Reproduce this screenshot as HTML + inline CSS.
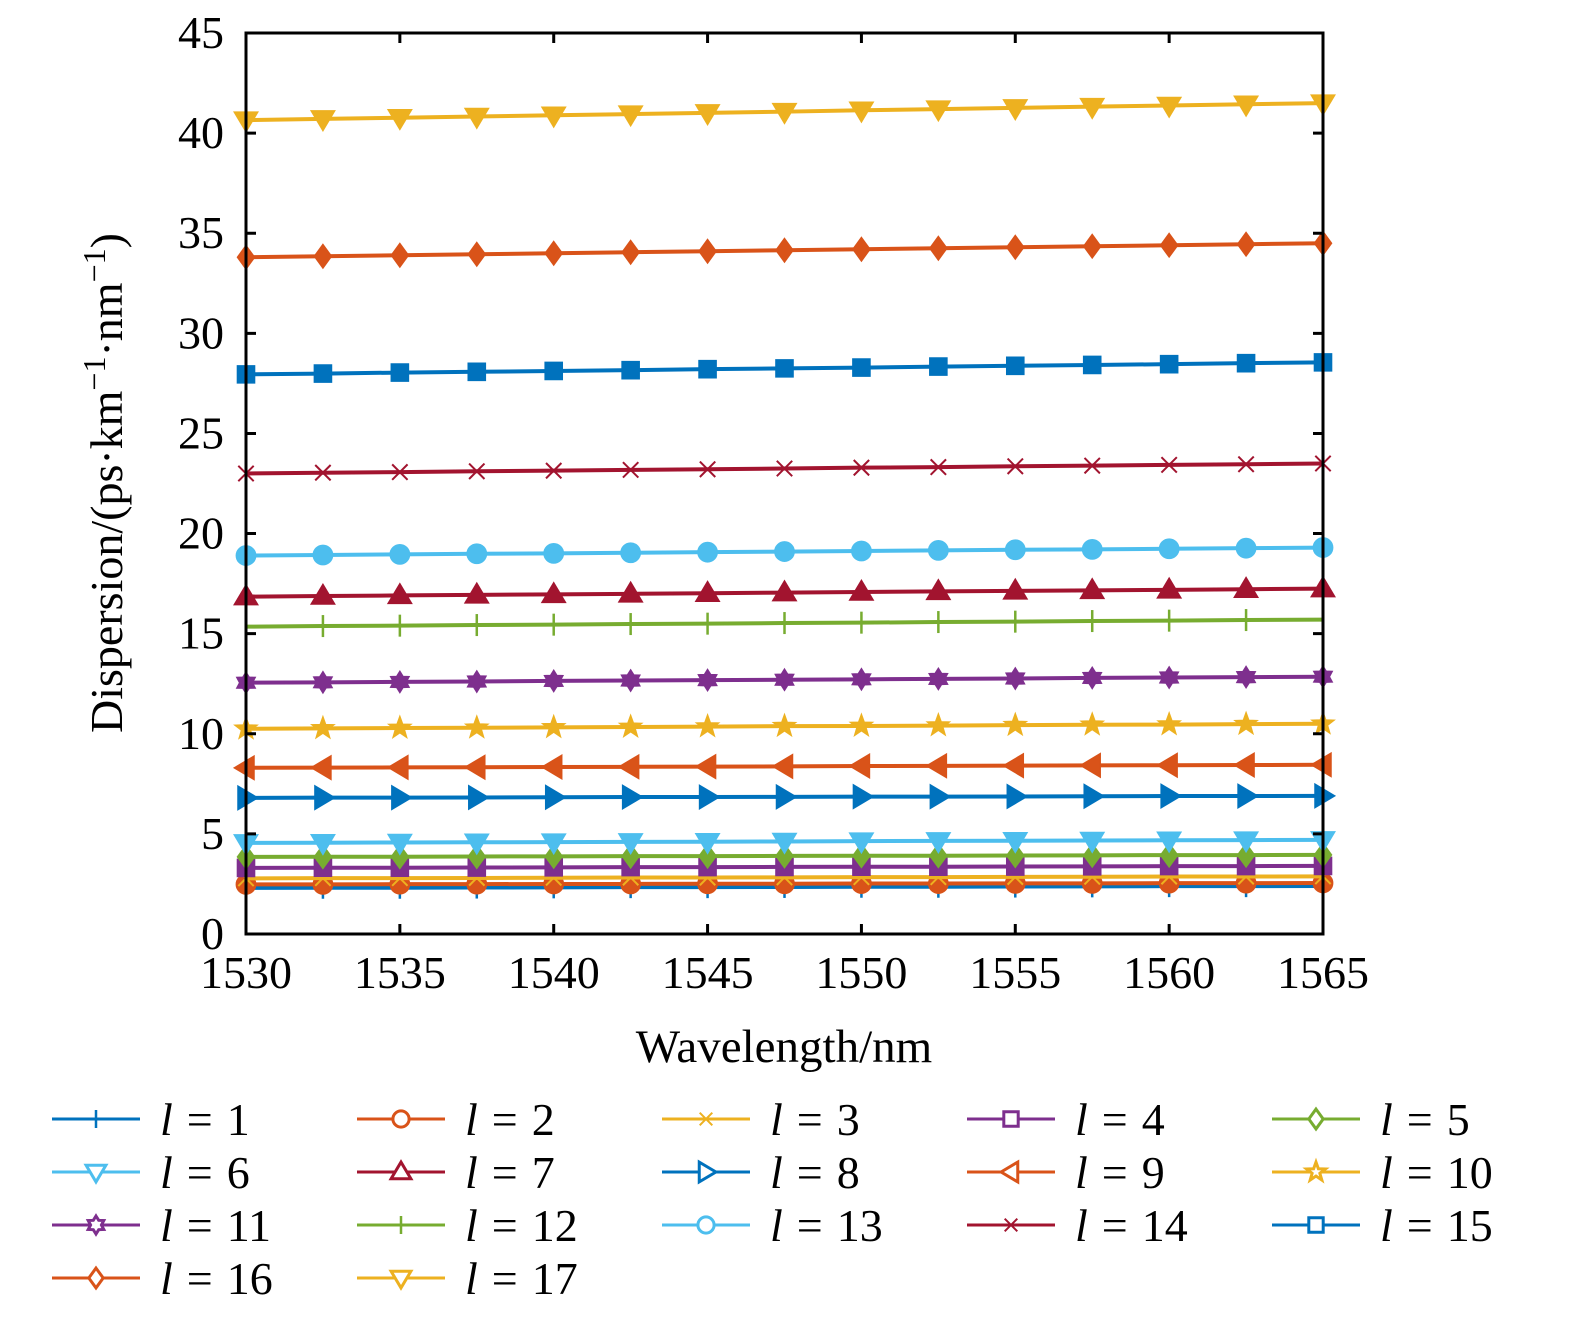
<!DOCTYPE html>
<html><head><meta charset="utf-8">
<style>
html,body{margin:0;padding:0;background:#fff;overflow:hidden;width:1575px;height:1319px;}
svg{display:block;}
svg text{font-family:"Liberation Serif",serif;fill:#000;}
</style></head>
<body>
<svg id="chart" width="1575" height="1319" viewBox="0 0 1575 1319" xmlns="http://www.w3.org/2000/svg">
<g id="plot"></g>
<g id="axes"></g>
<text x="784" y="1062" font-size="47" text-anchor="middle">Wavelength/nm</text>
<text transform="translate(122,483) rotate(-90)" font-size="46" text-anchor="middle">Dispersion/(ps·km<tspan dy="-17" font-size="32">−1</tspan><tspan dy="17">·nm</tspan><tspan dy="-17" font-size="32">−1</tspan><tspan dy="17">)</tspan></text>
<g id="legend"></g>
</svg>
<script>
const wavelengths=[1530,1532.5,1535,1537.5,1540,1542.5,1545,1547.5,1550,1552.5,1555,1557.5,1560,1562.5,1565];
const l1=[2.30,2.31,2.31,2.32,2.33,2.34,2.34,2.35,2.36,2.36,2.37,2.38,2.39,2.39,2.40];
const l2=[2.48,2.48,2.49,2.49,2.50,2.50,2.51,2.51,2.52,2.52,2.53,2.53,2.54,2.54,2.55];
const l3=[2.78,2.79,2.79,2.80,2.81,2.82,2.82,2.83,2.84,2.84,2.85,2.86,2.87,2.87,2.88];
const l4=[3.30,3.31,3.31,3.32,3.33,3.34,3.34,3.35,3.36,3.36,3.37,3.38,3.39,3.39,3.40];
const l5=[3.85,3.86,3.86,3.87,3.88,3.89,3.89,3.90,3.91,3.91,3.92,3.93,3.94,3.94,3.95];
const l6=[4.55,4.56,4.57,4.58,4.59,4.60,4.61,4.62,4.64,4.65,4.66,4.67,4.68,4.69,4.70];
const l7=[16.85,16.88,16.91,16.94,16.96,16.99,17.02,17.05,17.08,17.11,17.14,17.16,17.19,17.22,17.25];
const l8=[6.80,6.81,6.81,6.82,6.83,6.84,6.84,6.85,6.86,6.86,6.87,6.88,6.89,6.89,6.90];
const l9=[8.30,8.31,8.32,8.33,8.34,8.35,8.36,8.37,8.39,8.40,8.41,8.42,8.43,8.44,8.45];
const l10=[10.25,10.27,10.29,10.30,10.32,10.34,10.36,10.38,10.39,10.41,10.43,10.45,10.46,10.48,10.50];
const l11=[12.55,12.57,12.59,12.61,12.64,12.66,12.68,12.70,12.72,12.74,12.76,12.79,12.81,12.83,12.85];
const l12=[15.35,15.38,15.40,15.43,15.45,15.48,15.50,15.53,15.55,15.58,15.60,15.63,15.65,15.68,15.70];
const l13=[18.90,18.93,18.96,18.99,19.01,19.04,19.07,19.10,19.13,19.16,19.19,19.21,19.24,19.27,19.30];
const l14=[23.00,23.04,23.07,23.11,23.14,23.18,23.21,23.25,23.29,23.32,23.36,23.39,23.43,23.46,23.50];
const l15=[27.95,27.99,28.04,28.08,28.12,28.16,28.21,28.25,28.29,28.34,28.38,28.42,28.46,28.51,28.55];
const l16=[33.80,33.85,33.90,33.95,34.00,34.05,34.10,34.15,34.20,34.25,34.30,34.35,34.40,34.45,34.50];
const l17=[40.65,40.71,40.77,40.83,40.89,40.95,41.01,41.07,41.14,41.20,41.26,41.32,41.38,41.44,41.50];
const seriesValues=[l1,l2,l3,l4,l5,l6,l7,l8,l9,l10,l11,l12,l13,l14,l15,l16,l17];
const seriesLabels=["1","2","3","4","5","6","7","8","9","10","11","12","13","14","15","16","17"];
const xTicks=[1530,1535,1540,1545,1550,1555,1560,1565];
const yTicks=[0,5,10,15,20,25,30,35,40,45];

const C=["#0072BD","#D95319","#EDB120","#7E2F8E","#77AC30","#4DBEEE","#A2142F"];
const markers=["plus","circle","x","square","diamond","tridown","triup","triright","trileft","star","hex","plus","circle","x","square","diamond","tridown"];
const X0=246,X1=1323,Y0=934,Y1=33;
const xs=v=>X0+(v-1530)/(1565-1530)*(X1-X0);
const ys=v=>Y0-(v-0)/(45-0)*(Y0-Y1);
const NS="http://www.w3.org/2000/svg";
function mk(tag,attrs,parent){const e=document.createElementNS(NS,tag);for(const k in attrs)e.setAttribute(k,attrs[k]);parent.appendChild(e);return e;}
function marker(type,x,y,col,filled,parent,s){
  const f=filled?col:"#fff",sw=filled?1:3;let e;
  const P=pts=>mk("polygon",{points:pts.map(p=>(x+p[0]*s)+","+(y+p[1]*s)).join(" "),fill:f,stroke:col,"stroke-width":sw,"stroke-linejoin":"miter"},parent);
  switch(type){
    case "plus":e=mk("path",{d:`M${x},${y-s}V${y+s}`,stroke:col,"stroke-width":2.5},parent);break;
    case "x":e=mk("path",{d:`M${x-s*0.7},${y-s*0.7}L${x+s*0.7},${y+s*0.7}M${x-s*0.7},${y+s*0.7}L${x+s*0.7},${y-s*0.7}`,stroke:col,"stroke-width":2},parent);break;
    case "circle":e=mk("circle",{cx:x,cy:y,r:s*0.9,fill:f,stroke:col,"stroke-width":sw},parent);break;
    case "square":e=P([[-.8,-.8],[.8,-.8],[.8,.8],[-.8,.8]]);break;
    case "diamond":e=P([[0,-1.1],[.8,0],[0,1.1],[-.8,0]]);break;
    case "tridown":e=P([[-1.1,-.75],[1.1,-.75],[0,1.1]]);break;
    case "triup":e=P([[-1.1,.75],[1.1,.75],[0,-1.1]]);break;
    case "triright":e=P([[-.75,-1.1],[-.75,1.1],[1.1,0]]);break;
    case "trileft":e=P([[.75,-1.1],[.75,1.1],[-1.1,0]]);break;
    case "star":{const p=[];for(let i=0;i<10;i++){const a=-Math.PI/2+i*Math.PI/5,r=i%2?0.45:1.1;p.push([r*Math.cos(a),r*Math.sin(a)]);}e=P(p);break;}
    case "hex":{const p=[];for(let i=0;i<12;i++){const a=-Math.PI/2+i*Math.PI/6,r=i%2?0.6:1.0;p.push([r*Math.cos(a),r*Math.sin(a)]);}e=P(p);break;}
  }
  return e;
}
const plot=document.getElementById("plot");
seriesValues.forEach((vals,i)=>{
  const col=C[i%7];
  const g=mk("g",{},plot);
  
  
  const ln=mk("polyline",{points:vals.map((v,j)=>xs(wavelengths[j])+","+ys(v)).join(" "),fill:"none",stroke:col,"stroke-width":4},g);
  
  
  vals.forEach((v,j)=>{
    const m=marker(markers[i],xs(wavelengths[j]),ys(v),col,true,g,11);
    
    
  });
});
const axes=document.getElementById("axes");
const fr=mk("rect",{x:X0,y:Y1,width:X1-X0,height:Y0-Y1,fill:"none",stroke:"#000","stroke-width":3},axes);


xTicks.forEach(t=>{
  mk("path",{d:`M${xs(t)},${Y0}v-10M${xs(t)},${Y1}v10`,stroke:"#000","stroke-width":3},axes);
  const tx=mk("text",{x:xs(t),y:988,"font-size":46,"text-anchor":"middle"},axes);tx.textContent=t;
  
  
});
yTicks.forEach(t=>{
  mk("path",{d:`M${X0},${ys(t)}h10M${X1},${ys(t)}h-10`,stroke:"#000","stroke-width":3},axes);
  const tx=mk("text",{x:224,y:ys(t)+15,"font-size":46,"text-anchor":"end"},axes);tx.textContent=t;
  
  
});
const leg=document.getElementById("legend");
seriesLabels.forEach((lab,i)=>{
  const col=C[i%7],cx=52+(i%5)*305,cy=1119+Math.floor(i/5)*53;
  const g=mk("g",{},leg);
  
  
  mk("path",{d:`M${cx},${cy}h88`,stroke:col,"stroke-width":3},g);
  marker(markers[i],cx+44,cy,col,false,g,9);
  const t=mk("text",{x:cx+108,y:cy+16,"font-size":46,"xml:space":"preserve"},g);
  t.innerHTML='<tspan font-style="italic">l</tspan><tspan dx="14">=</tspan><tspan dx="14">'+lab+'</tspan>';
});
</script>
</body></html>
